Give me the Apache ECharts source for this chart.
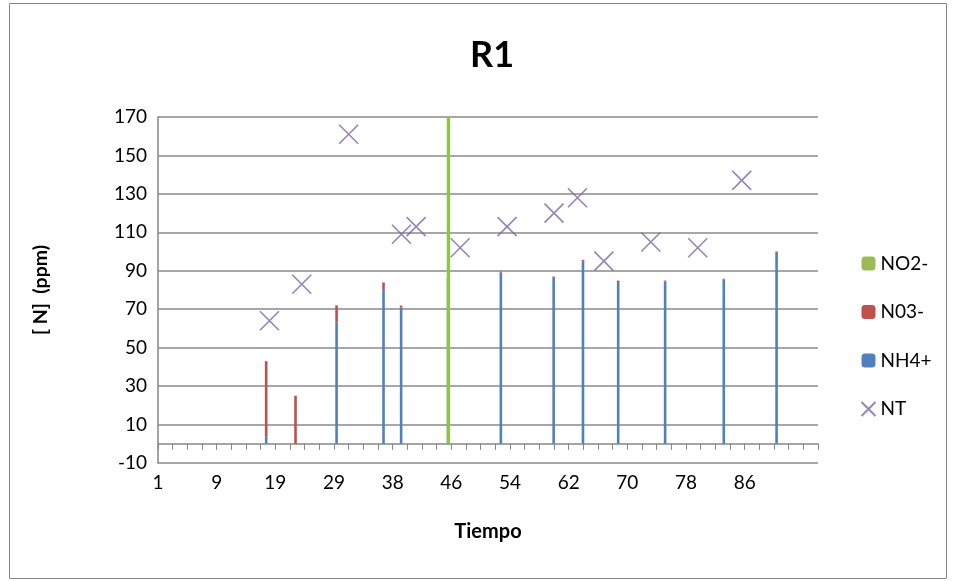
<!DOCTYPE html>
<html><head><meta charset="utf-8">
<script src="https://cdn.jsdelivr.net/npm/echarts@6/dist/echarts.min.js"></script>
<style>html,body{margin:0;padding:0;background:#fff}#c{width:955px;height:581px}</style>
</head><body><div id="c"></div>
<script>
// ---- datos ----
const numCategorias = 226;                 // posiciones del eje de categorías (Tiempo)
const etiquetasEje = ['1','9','19','29','38','46','54','62','70','78','86']; // una cada 20 posiciones
const posBarras = [37, 47, 61, 77, 83, 99, 117, 135, 145, 157, 173, 193, 211];
const nh4 = [4, 0, 63, 80.5, 70.8, 86, 89, 86.3, 95, 83.7, 84.4, 85.4, 99.3];
const no3 = [39, 25, 9, 3.4, 1.1, 0, 0.6, 0.7, 0.7, 1.2, 0.5, 0.5, 0.7];
const posNO2 = [99];
const no2 = [180];
const posNT = [38, 49, 65, 83, 88, 103, 119, 135, 143, 152, 168, 184, 199];
const nt = [64, 83, 161, 109, 113, 102, 113, 120, 128, 95, 105, 102, 137];
const ticksY = {min: -10, max: 170, interval: 20};

// ---- gráfico ----
const FONT = 'Lato';
const categorias = Array.from({length: numCategorias}, (_, i) => String(i));
const pares = (pos, vals) => pos.map((p, i) => [p, vals[i]]);
const chart = echarts.init(document.getElementById('c'), null, {renderer: 'canvas'});
chart.setOption({
  animation: false,
  textStyle: {fontFamily: FONT},
  title: {text: 'R1', left: 492, top: 37, textAlign: 'center', padding: 0,
    textStyle: {fontSize: 36, fontWeight: 'bold', color: '#000', fontFamily: FONT}},
  graphic: [{type: 'rect', shape: {x: 9.5, y: 3.5, width: 937, height: 575},
    style: {fill: 'none', stroke: '#868686', lineWidth: 1}, silent: true}],
  legend: {orient: 'vertical', left: 859, top: 254, padding: 0, itemWidth: 14, itemHeight: 14, itemGap: 29.5,
    textStyle: {fontSize: 19, color: '#000', fontFamily: FONT},
    data: [{name: 'NO2-', itemStyle: {color: '#9BBB59'}}, 'N03-', 'NH4+', 'NT']},
  grid: {left: 158, right: 137, top: 117, bottom: 118, containLabel: false},
  xAxis: [
    {type: 'category', data: categorias, boundaryGap: false,
      axisLine: {onZero: true, lineStyle: {color: '#868686', width: 1.5}},
      axisTick: {show: true, interval: 4, length: 6, lineStyle: {color: '#868686', width: 1}},
      axisLabel: {show: false}, splitLine: {show: false}},
    {type: 'category', data: categorias, boundaryGap: false, position: 'bottom',
      axisLine: {show: false, onZero: false}, axisTick: {show: false}, splitLine: {show: false},
      axisLabel: {interval: 19, margin: 10, fontSize: 19, color: '#000', fontFamily: FONT,
        formatter: (v, i) => etiquetasEje[i / 20] ?? ''},
      name: 'Tiempo', nameLocation: 'middle', nameGap: 59,
      nameTextStyle: {fontSize: 20, fontWeight: 'bold', color: '#000', fontFamily: FONT}}
  ],
  yAxis: {type: 'value', min: ticksY.min, max: ticksY.max, interval: ticksY.interval,
    axisLine: {show: true, lineStyle: {color: '#868686', width: 1.5}},
    axisTick: {show: false},
    axisLabel: {fontSize: 19, color: '#000', margin: 11, fontFamily: FONT},
    splitLine: {lineStyle: {color: '#8a8a8a', width: 1.5}},
    name: '[ N]  (ppm)', nameLocation: 'middle', nameRotate: 90, nameGap: 107,
    nameTextStyle: {fontSize: 19.5, fontWeight: 'bold', color: '#000', fontFamily: FONT}},
  series: [
    {name: 'NH4+', type: 'bar', stack: 'N', barWidth: 2.6, itemStyle: {color: '#4F81BD'},
      data: pares(posBarras, nh4)},
    {name: 'N03-', type: 'bar', stack: 'N', barWidth: 2.6, itemStyle: {color: '#C0504D'},
      data: pares(posBarras, no3)},
    {name: 'NO2-', type: 'bar', stack: 'NO2', barWidth: 3.3, barGap: '-100%', itemStyle: {color: '#8DC641'},
      data: pares(posNO2, no2)},
    {name: 'NT', type: 'scatter', symbol: 'path://M0,0L10,10M10,0L0,10', symbolSize: 19,
      itemStyle: {color: 'none', borderColor: '#8064A2', borderWidth: 1.6},
      data: pares(posNT, nt)}
  ]
});
</script></body></html>
